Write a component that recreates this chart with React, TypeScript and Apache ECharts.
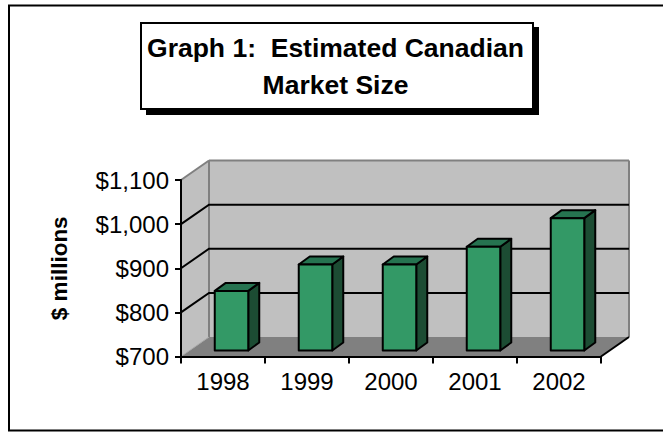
import React, { useEffect, useRef } from "react";
import * as echarts from "echarts";

const categories = ["1998", "1999", "2000", "2001", "2002"];
const marketSize = [835, 895, 895, 935, 1000];
const gridValues = [800, 900, 1000];
const yMin = 700;
const yMax = 1100;
const titleText = "Graph 1:  Estimated Canadian\nMarket Size";
const yAxisTitle = "$ millions";

const FONT = "'Liberation Sans', Arial, sans-serif";
const DX = 28;
const DY = -19.5;
const BAR_DX = 8.5;
const BAR_DY = -6;
const BAR_W = 33.5;
const TOP_DX = 11;
const TOP_DY = -8;

export default function App() {
  const ref = useRef<HTMLDivElement>(null);
  useEffect(() => {
    const chart = echarts.init(ref.current!, null, { renderer: "svg" });
    chart.setOption({
      animation: false,
      backgroundColor: "#ffffff",
      textStyle: { fontFamily: FONT },
      title: {
        text: titleText,
        left: 330.5,
        top: 24,
        textAlign: "center",
        textStyle: { fontFamily: FONT, fontSize: 26.5, fontWeight: "bold", color: "#000", lineHeight: 37 },
        z: 20,
      },
      grid: { left: 181, right: 62, top: 180, bottom: 75.5 },
      xAxis: {
        type: "category",
        data: categories,
        boundaryGap: true,
        z: 10,
        axisLine: { lineStyle: { color: "#000", width: 2 } },
        axisTick: { show: true, alignWithLabel: false, length: 7, lineStyle: { color: "#000", width: 2 } },
        axisLabel: { color: "#000", fontSize: 24, fontFamily: FONT, margin: 13 },
      },
      yAxis: {
        type: "value",
        min: yMin,
        max: yMax,
        interval: 100,
        z: 10,
        name: yAxisTitle,
        nameLocation: "middle",
        nameGap: 110,
        nameRotate: 90,
        nameTextStyle: { color: "#000", fontSize: 22.5, fontWeight: "bold", fontFamily: FONT },
        axisLine: { show: true, lineStyle: { color: "#000", width: 2 } },
        axisTick: { show: true, length: 6, lineStyle: { color: "#000", width: 2 } },
        axisLabel: {
          color: "#000",
          fontSize: 24,
          fontFamily: FONT,
          margin: 12,
          formatter: (v: number) => "$" + v.toLocaleString("en-US"),
        },
        splitLine: { show: false },
      },
      graphic: [
        { type: "line", z: 0, shape: { x1: 8, y1: 5.5, x2: 663, y2: 5.5 }, style: { stroke: "#000", lineWidth: 2 } },
        { type: "line", z: 0, shape: { x1: 9, y1: 5, x2: 9, y2: 431 }, style: { stroke: "#000", lineWidth: 2 } },
        { type: "line", z: 0, shape: { x1: 8, y1: 430.5, x2: 663, y2: 430.5 }, style: { stroke: "#000", lineWidth: 2 } },
        { type: "rect", z: 1, shape: { x: 146, y: 27, width: 393, height: 88 }, style: { fill: "#000" } },
        { type: "rect", z: 2, shape: { x: 141, y: 23, width: 392, height: 86 }, style: { fill: "#fff", stroke: "#000", lineWidth: 2 } },
      ],
      series: [
        {
          type: "custom",
          name: "walls",
          coordinateSystem: "cartesian2d",
          z: 2,
          silent: true,
          data: [[0, yMin]],
          renderItem: (_p: any, api: any) => {
            const size = api.size([1, 0])[0];
            const [lx, by] = api.coord([0, yMin]);
            const [, ty] = api.coord([0, yMax]);
            const left = lx - size / 2;
            const right = left + size * categories.length;
            const gray = { stroke: "#808080", lineWidth: 2 };
            const children: any[] = [
              { type: "polygon", shape: { points: [[left, ty], [left + DX, ty + DY], [left + DX, by + DY], [left, by]] }, style: { fill: "#c0c0c0" } },
              { type: "rect", shape: { x: left + DX, y: ty + DY, width: right - left, height: by - ty }, style: { fill: "#c0c0c0" } },
              { type: "polygon", shape: { points: [[left, by], [left + DX, by + DY], [right + DX, by + DY], [right, by]] }, style: { fill: "#808080" } },
              { type: "line", shape: { x1: left, y1: ty, x2: left + DX, y2: ty + DY }, style: gray },
              { type: "line", shape: { x1: left + DX, y1: ty + DY, x2: right + DX, y2: ty + DY }, style: gray },
              { type: "line", shape: { x1: left + DX, y1: ty + DY, x2: left + DX, y2: by + DY }, style: gray },
              { type: "line", shape: { x1: right + DX, y1: ty + DY, x2: right + DX, y2: by + DY }, style: gray },
              { type: "line", shape: { x1: left, y1: by, x2: left + DX, y2: by + DY }, style: { stroke: "#a8a8a8", lineWidth: 1 } },
              { type: "line", shape: { x1: right, y1: by, x2: right + DX, y2: by + DY }, style: { stroke: "#000", lineWidth: 2 } },
            ];
            gridValues.forEach((v) => {
              const [, y] = api.coord([0, v]);
              children.push({
                type: "polyline",
                shape: { points: [[left, y], [left + DX, y + DY], [right + DX, y + DY]] },
                style: { stroke: "#000", lineWidth: 2, fill: "none" },
              });
            });
            return { type: "group", children };
          },
        },
        {
          type: "custom",
          name: "Market size",
          coordinateSystem: "cartesian2d",
          z: 3,
          data: marketSize.map((v, i) => [i, v]),
          renderItem: (_p: any, api: any) => {
            const [cx, topY] = api.coord([api.value(0), api.value(1)]);
            const [, baseY] = api.coord([api.value(0), yMin]);
            const x0 = cx + BAR_DX - BAR_W / 2;
            const x1 = x0 + BAR_W;
            const y0 = topY + BAR_DY;
            const y1 = baseY + BAR_DY;
            const line = { stroke: "#000", lineWidth: 2, lineJoin: "round" };
            return {
              type: "group",
              children: [
                { type: "polygon", shape: { points: [[x1, y0], [x1 + TOP_DX, y0 + TOP_DY], [x1 + TOP_DX, y1 + TOP_DY], [x1, y1]] }, style: { fill: "#1c4c33", ...line } },
                { type: "polygon", shape: { points: [[x0, y0], [x0 + TOP_DX, y0 + TOP_DY], [x1 + TOP_DX, y0 + TOP_DY], [x1, y0]] }, style: { fill: "#267350", ...line } },
                { type: "rect", shape: { x: x0, y: y0, width: BAR_W, height: y1 - y0 }, style: { fill: "#339966", ...line } },
              ],
            };
          },
        },
      ],
    });
    return () => chart.dispose();
  }, []);
  return <div ref={ref} style={{ position: "fixed", left: 0, top: 0, width: 663, height: 432 }} />;
}
